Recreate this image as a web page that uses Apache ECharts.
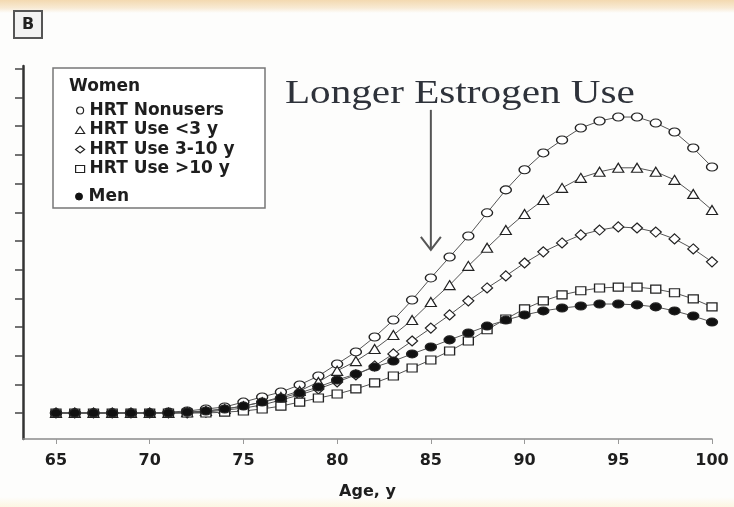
<!DOCTYPE html>
<html><head><meta charset="utf-8">
<script src="https://cdn.jsdelivr.net/npm/echarts@6/dist/echarts.min.js"></script>
<style>html,body{margin:0;padding:0;background:#fdfdfc}#c{width:734px;height:507px}</style>
</head><body><div id="c"></div>
<script>
const ages = [65,66,67,68,69,70,71,72,73,74,75,76,77,78,79,80,81,82,83,84,85,86,87,88,89,90,91,92,93,94,95,96,97,98,99,100];
const hrtNonusers = [0,0,0,0,0,0,0.03,0.07,0.14,0.21,0.38,0.56,0.73,0.98,1.29,1.71,2.13,2.65,3.24,3.94,4.71,5.44,6.17,6.98,7.78,8.48,9.07,9.52,9.94,10.18,10.32,10.32,10.11,9.80,9.24,8.58];
const hrtUnder3 = [0,0,0,0,0,0,0,0.03,0.07,0.14,0.24,0.38,0.56,0.77,1.08,1.47,1.81,2.23,2.72,3.24,3.87,4.46,5.13,5.76,6.38,6.94,7.43,7.85,8.20,8.41,8.55,8.55,8.41,8.13,7.64,7.08];
const hrt3to10 = [0,0,0,0,0,0,0,0,0.03,0.10,0.17,0.28,0.45,0.63,0.84,1.08,1.33,1.64,2.06,2.51,2.96,3.42,3.91,4.36,4.78,5.23,5.62,5.93,6.21,6.38,6.49,6.45,6.31,6.07,5.72,5.27];
const hrtOver10 = [0,0,0,0,0,0,0,0,0,0.03,0.07,0.14,0.24,0.38,0.52,0.66,0.84,1.05,1.29,1.57,1.85,2.16,2.51,2.90,3.28,3.63,3.91,4.12,4.26,4.36,4.39,4.39,4.32,4.19,3.98,3.70];
const men = [0,0,0,0,0,0,0,0.03,0.07,0.14,0.24,0.38,0.52,0.70,0.91,1.15,1.36,1.60,1.81,2.06,2.30,2.55,2.79,3.03,3.24,3.42,3.56,3.66,3.73,3.80,3.80,3.77,3.70,3.56,3.38,3.17];
const xTicks = [65,70,75,80,85,90,95,100];
const yTicks = [0,1,2,3,4,5,6,7,8,9,10,11,12];
const seriesNames = ['HRT Nonusers','HRT Use <3 y','HRT Use 3-10 y','HRT Use >10 y','Men'];
const annotation = 'Longer Estrogen Use';

(function () {
const chart = echarts.init(document.getElementById('c'), null, {renderer:'canvas'});
const sansBold = {fontFamily:'DejaVu Sans', fontWeight:'bold', color:'#1e1e1e'};

function mk(name, vals, symbol, size, filled, z) {
  return {
    name, type:'line', data: ages.map((a,i)=>[a, vals[i]]),
    symbol, symbolSize:size, showSymbol:true, z,
    lineStyle:{color:'#555', width:1},
    itemStyle:{color: filled ? '#111' : '#fff', borderColor:'#222', borderWidth:1.2},
    emphasis:{disabled:true}, animation:false
  };
}
const openStyle = {color:'#fff', borderColor:'#222', borderWidth:1.2};
const legendText = Object.assign({fontSize:17, lineHeight:17}, sansBold);

chart.setOption({
  animation:false,
  backgroundColor:'#fdfdfc',
  grid:{left:23, right:22, top:66, bottom:68},
  xAxis:{
    type:'value', min:63.24, max:100,
    name:'Age, y', nameLocation:'middle', nameGap:45,
    nameTextStyle:Object.assign({fontSize:16}, sansBold),
    axisLine:{onZero:false, lineStyle:{color:'#8a8a8a', width:1.5}},
    axisTick:{customValues:xTicks, length:5, lineStyle:{color:'#999', width:1}},
    axisLabel:Object.assign({customValues:xTicks, margin:14, fontSize:16}, sansBold),
    splitLine:{show:false}
  },
  yAxis:{
    type:'value', min:-0.907, max:12.1,
    axisLine:{show:true, onZero:false, lineStyle:{color:'#333', width:2.5}},
    axisTick:{show:true, customValues:yTicks, length:8, lineStyle:{color:'#444', width:1.5}},
    axisLabel:{show:false, customValues:yTicks},
    splitLine:{show:false}
  },
  legend:[
    {data:[
      {name:seriesNames[0], icon:'circle', itemStyle:openStyle},
      {name:seriesNames[1], icon:'triangle', itemStyle:openStyle},
      {name:seriesNames[2], icon:'diamond', itemStyle:openStyle},
      {name:seriesNames[3], icon:'rect', itemStyle:openStyle}],
     orient:'vertical', left:70, top:97, itemWidth:9, itemHeight:7, itemGap:2.5,
     selectedMode:false, textStyle:legendText, z:6},
    {data:[{name:seriesNames[4], icon:'circle', itemStyle:{color:'#111', borderColor:'#111', borderWidth:1}}],
     orient:'vertical', left:70, top:183, itemWidth:9, itemHeight:7,
     selectedMode:false, textStyle:legendText, z:6}
  ],
  series:[
    mk(seriesNames[0], hrtNonusers, 'circle', [11,8], false, 3),
    mk(seriesNames[1], hrtUnder3, 'triangle', [11,9], false, 3),
    mk(seriesNames[2], hrt3to10, 'diamond', [11,10], false, 3),
    mk(seriesNames[3], hrtOver10, 'rect', [10,8], false, 3),
    mk(seriesNames[4], men, 'circle', [11,8], true, 4)
  ]
});

const tip = chart.convertToPixel({gridIndex:0}, [85, 5.69]);
const tail = chart.convertToPixel({gridIndex:0}, [85, 10.57]);
const txtC = chart.convertToPixel({gridIndex:0}, [86.55, 11.12]);
const annFont = '33px "Liberation Serif"';
const cv = document.createElement('canvas').getContext('2d');
cv.font = annFont;
const annW = cv.measureText(annotation).width || 280;
const annScale = 350 / annW;

chart.setOption({
  graphic:[
    {type:'rect', shape:{x:0, y:0, width:734, height:13}, z:0, silent:true,
     style:{fill:new echarts.graphic.LinearGradient(0,0,0,1,[{offset:0,color:'#f3d9b0'},{offset:0.6,color:'#f8ead3'},{offset:1,color:'#fdfdfc'}])}},
    {type:'rect', shape:{x:0, y:497, width:734, height:10}, z:0, silent:true,
     style:{fill:new echarts.graphic.LinearGradient(0,0,0,1,[{offset:0,color:'#fdfdfc'},{offset:1,color:'#fcf6e2'}])}},
    {type:'rect', shape:{x:14, y:11, width:28, height:27}, z:5, silent:true,
     style:{fill:'#f2f2f2', stroke:'#555', lineWidth:2}},
    {type:'text', x:28, y:25, z:6, silent:true,
     style:{text:'B', font:'bold 16px "DejaVu Sans"', fill:'#222', textAlign:'center', textVerticalAlign:'middle'}},
    {type:'rect', shape:{x:53, y:68, width:212, height:140}, z:5, silent:true,
     style:{fill:'#fff', stroke:'#777', lineWidth:1.5}},
    {type:'text', x:69, y:87, z:6, silent:true,
     style:{text:'Women', font:'bold 17px "DejaVu Sans"', fill:'#1e1e1e', textAlign:'left', textVerticalAlign:'middle'}},
    {type:'line', z:6, silent:true, shape:{x1:tail[0], y1:tail[1], x2:tip[0], y2:tip[1]},
     style:{stroke:'#555', lineWidth:2}},
    {type:'polyline', z:6, silent:true, shape:{points:[[tip[0]-10, tip[1]-13],[tip[0], tip[1]],[tip[0]+10, tip[1]-13]]},
     style:{stroke:'#555', lineWidth:2, fill:null}},
    {type:'text', x:txtC[0], y:txtC[1], scaleX:annScale, z:6, silent:true,
     style:{text:annotation, font:annFont, fill:'#2e323a', textAlign:'center', textVerticalAlign:'middle'}}
  ]
});
})();
</script></body></html>
